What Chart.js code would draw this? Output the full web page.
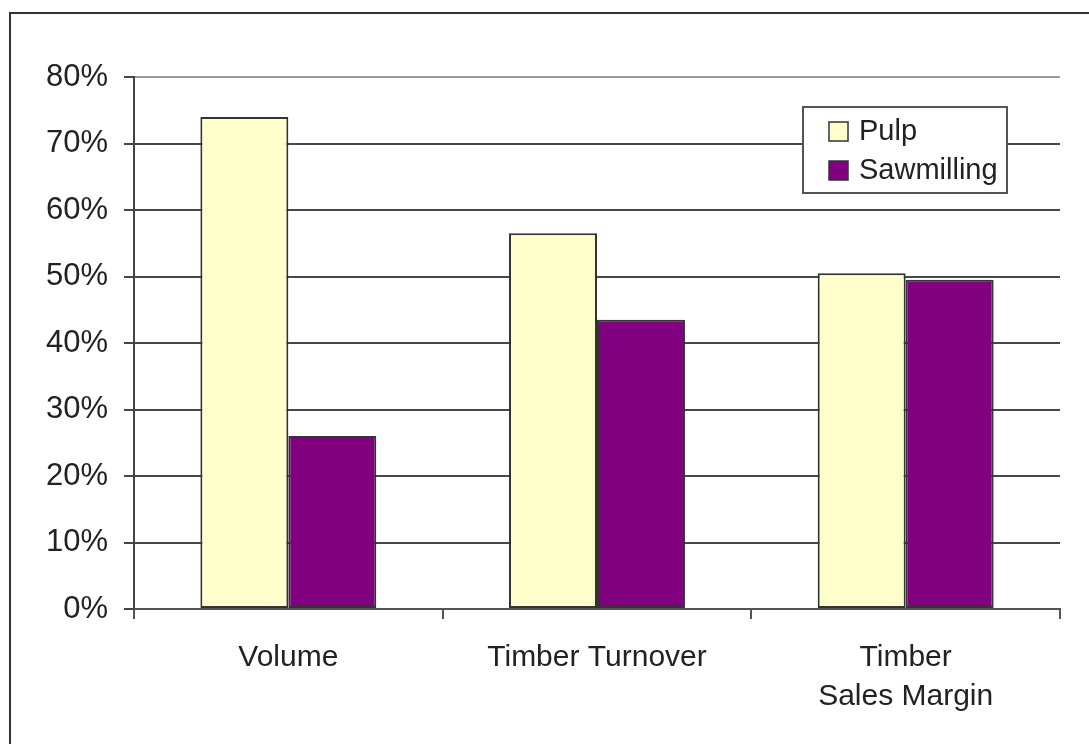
<!DOCTYPE html>
<html>
<head>
<meta charset="utf-8">
<script src="https://cdn.jsdelivr.net/npm/chart.js@4.4.1/dist/chart.umd.min.js"></script>
<style>
    body { margin: 0; background: #fff; }
    #wrap { position: relative; width: 1089px; height: 744px; overflow: hidden; }
    #frame {
        position: absolute; left: 9px; top: 12px; width: 1100px; height: 760px;
        border-left: 2px solid #333; border-top: 2px solid #333;
    }
    canvas { position: absolute; left: 0; top: 0; }
</style>
</head>
<body>
<div id="wrap">
    <div id="frame"></div>
    <canvas id="graph" width="1089" height="744"></canvas>
</div>
<script>
// dados
var categorias = ['Volume', 'Timber Turnover', ['Timber', 'Sales Margin']];
var pulp = [74, 56.5, 50.5];
var sawmilling = [26, 43.5, 49.5];
var yMax = 80;
var yStep = 10;

// legenda desenhada dentro da área do gráfico
var boxLegend = {
    id: 'boxLegend',
    afterDraw: function (chart) {
        var ctx = chart.ctx;
        ctx.save();
        ctx.fillStyle = '#fff';
        ctx.fillRect(803, 107, 204, 86);
        ctx.strokeStyle = '#555';
        ctx.lineWidth = 2;
        ctx.strokeRect(803, 107, 204, 86);
        ctx.font = '29px "Liberation Sans", Arial, sans-serif';
        ctx.textBaseline = 'middle';
        chart.data.datasets.forEach(function (ds, i) {
            var y = 122 + i * 39;
            ctx.fillStyle = ds.backgroundColor;
            ctx.fillRect(829, y, 19, 19);
            ctx.strokeStyle = '#333';
            ctx.lineWidth = 1.5;
            ctx.strokeRect(829, y, 19, 19);
            ctx.fillStyle = '#222';
            ctx.fillText(ds.label, 859, y + 10);
        });
        ctx.restore();
    }
};

var ctx = document.getElementById('graph').getContext('2d');
var chart = new Chart(ctx, {
    type: 'bar',
    data: {
        labels: categorias,
        datasets: [
            {
                label: 'Pulp',
                data: pulp,
                backgroundColor: '#FFFFCC',
                borderColor: '#333',
                borderWidth: 2,
                borderSkipped: false
            },
            {
                label: 'Sawmilling',
                data: sawmilling,
                backgroundColor: '#800080',
                borderColor: '#333',
                borderWidth: 2,
                borderSkipped: false
            }
        ]
    },
    options: {
        responsive: false,
        animation: false,
        maintainAspectRatio: false,
        categoryPercentage: 0.57,
        barPercentage: 1.0,
        layout: { padding: { top: 77, right: 29, left: 0, bottom: 0 } },
        plugins: {
            legend: { display: false },
            tooltip: { enabled: false }
        },
        scales: {
            x: {
                afterFit: function (s) { s.height = 135; },
                grid: {
                    offset: true,
                    drawOnChartArea: true,
                    color: function (c) { return c.index === 3 ? '#a0a0a0' : 'rgba(0,0,0,0)'; },
                    lineWidth: 2,
                    tickColor: '#555',
                    tickLength: 10
                },
                border: { color: '#555', width: 2 },
                ticks: {
                    color: '#222',
                    padding: 19,
                    font: { family: '"Liberation Sans", Arial, sans-serif', size: 30, lineHeight: 1.3 },
                    maxRotation: 0
                }
            },
            y: {
                min: 0,
                max: yMax,
                afterFit: function (s) { s.width = 134; },
                grid: {
                    color: function (c) { return c.tick && c.tick.value === yMax ? '#999' : '#474747'; },
                    lineWidth: 2,
                    tickColor: '#474747',
                    tickLength: 10
                },
                border: { color: '#444', width: 2 },
                ticks: {
                    stepSize: yStep,
                    color: '#222',
                    padding: 16,
                    font: { family: '"Liberation Sans", Arial, sans-serif', size: 31 },
                    callback: function (v) { return v + '%'; }
                }
            }
        }
    },
    plugins: [boxLegend]
});
</script>
</body>
</html>
